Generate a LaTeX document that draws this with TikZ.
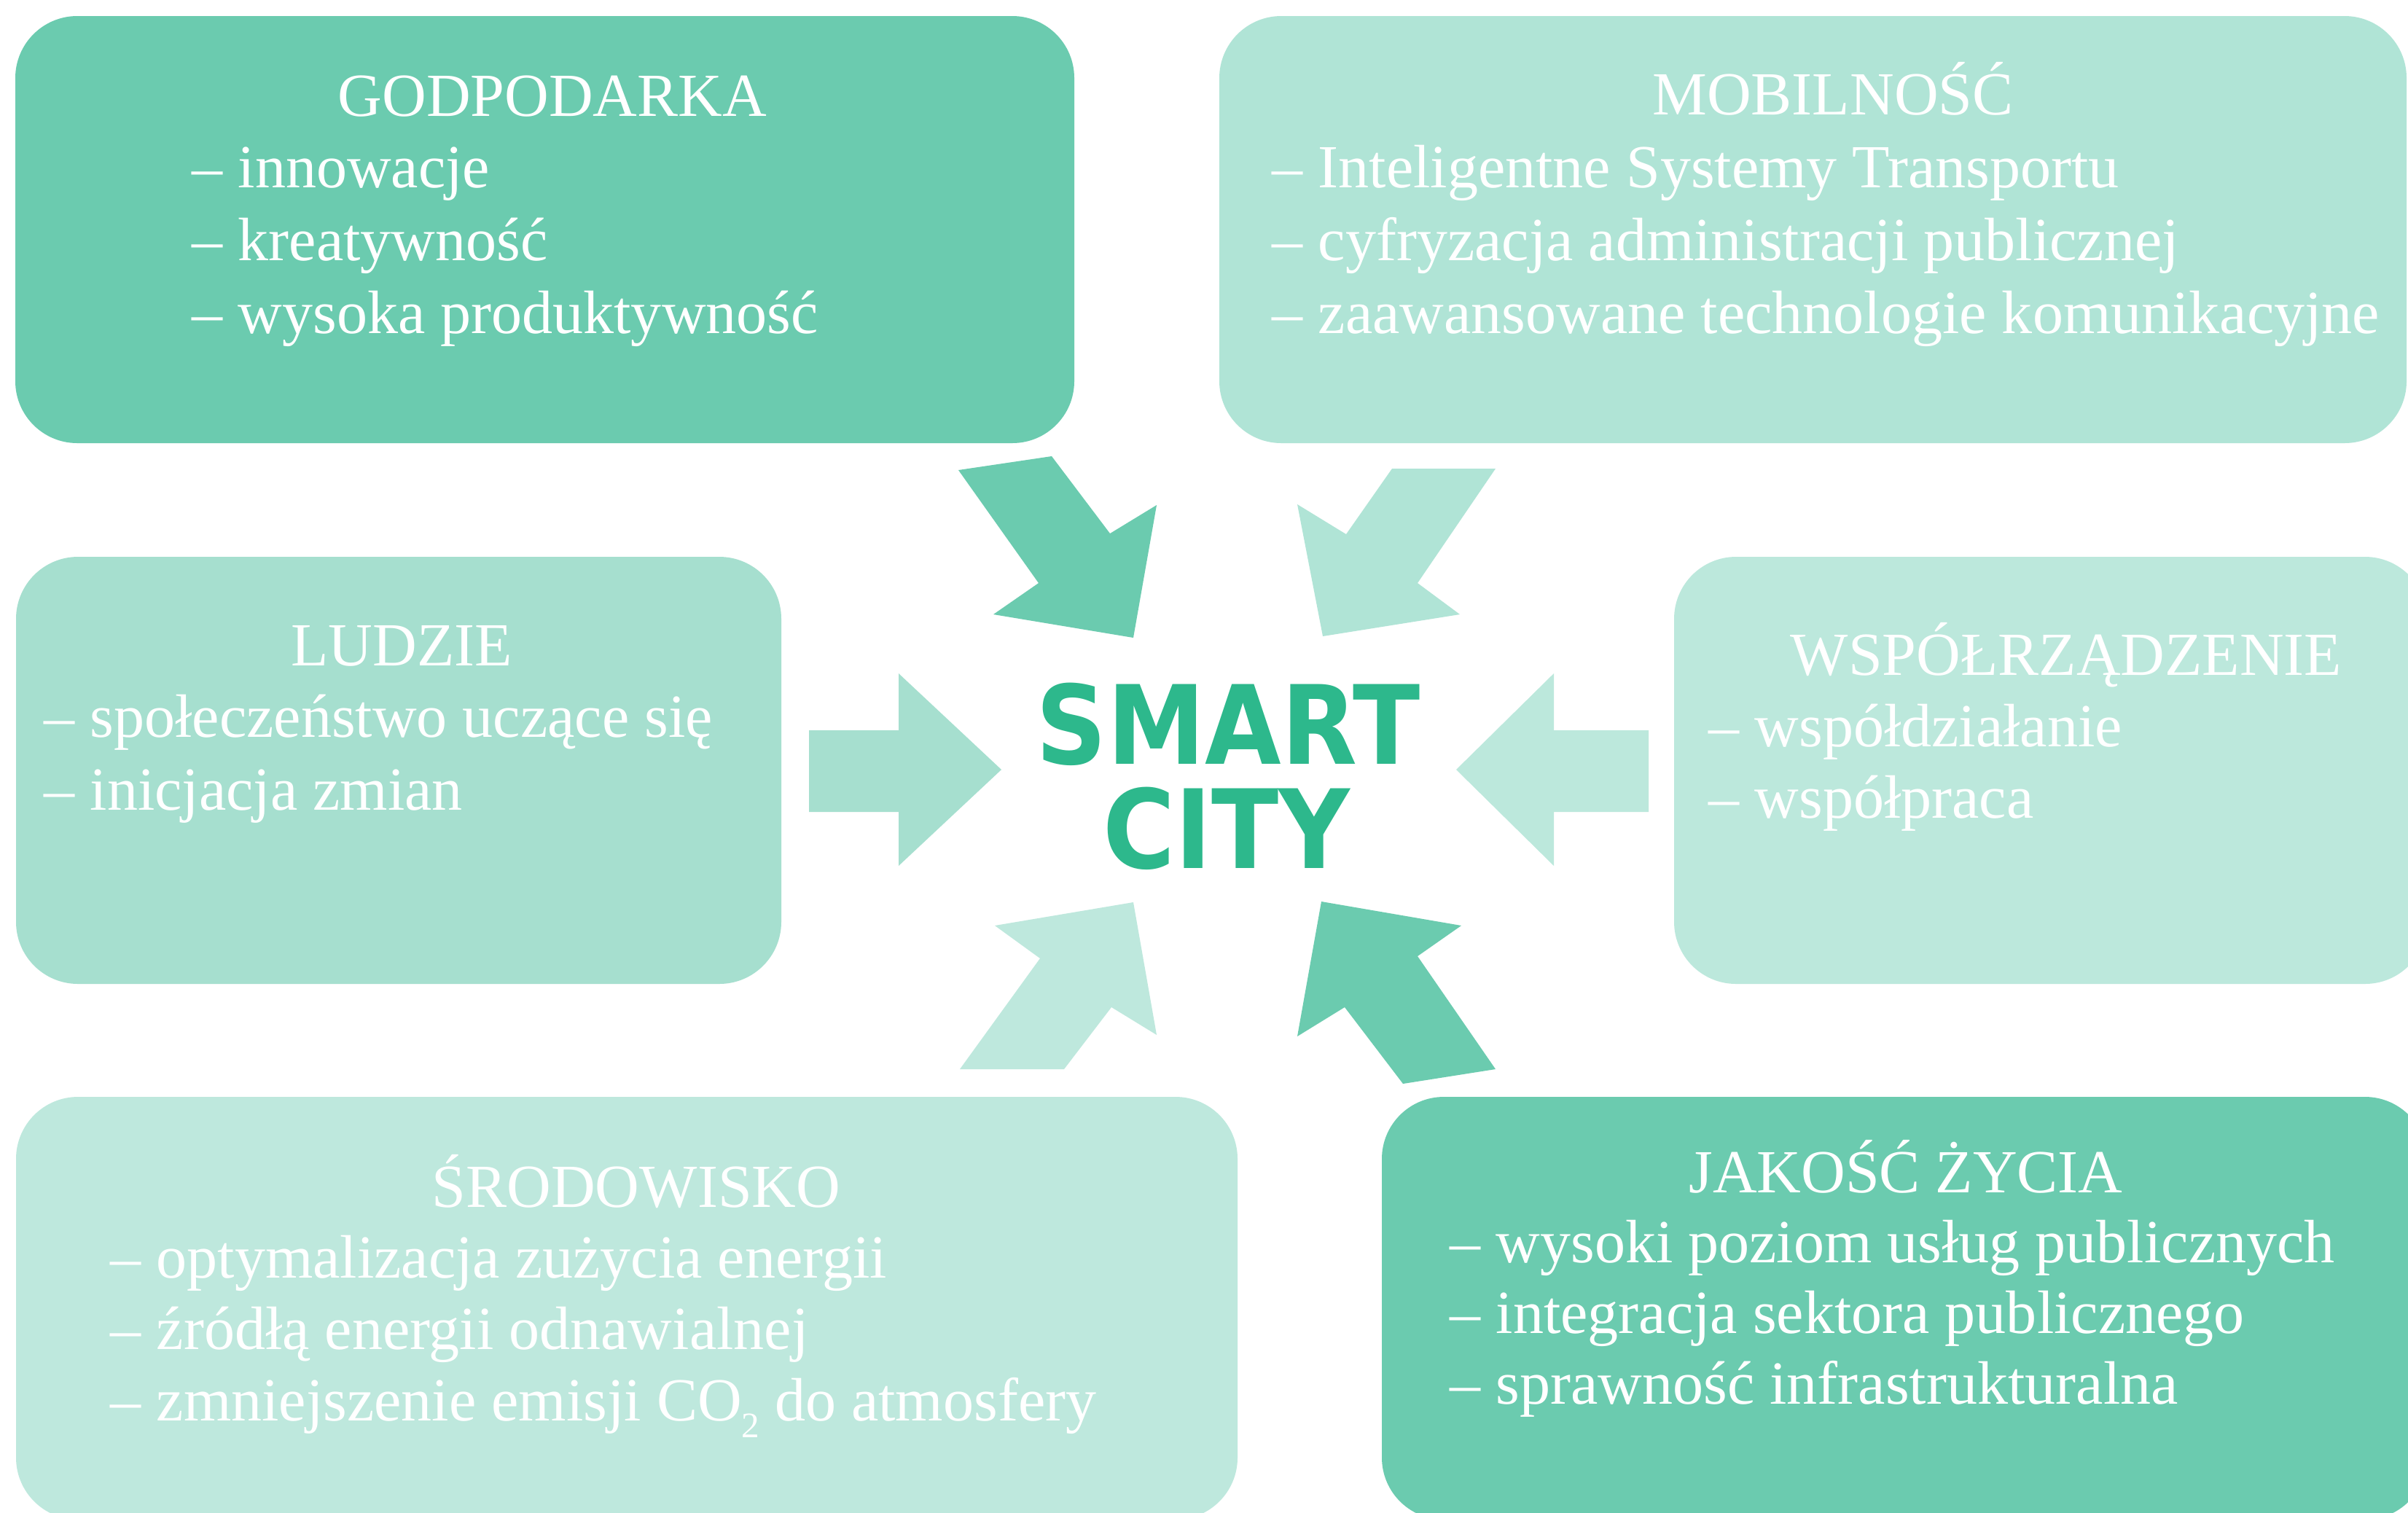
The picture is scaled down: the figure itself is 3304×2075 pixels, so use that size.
\documentclass[tikz,border=0pt]{standalone}
\usepackage{fontspec}
\setmainfont{Liberation Serif}
\newfontfamily\smartfont[FakeStretch=0.9]{DejaVu Sans Bold}
\definecolor{cDark}{HTML}{6BCBAF}
\definecolor{cMob}{HTML}{B0E4D6}
\definecolor{cLud}{HTML}{A6DFCF}
\definecolor{cWsp}{HTML}{BCE8DC}
\definecolor{cSro}{HTML}{BEE8DD}
\definecolor{cSmart}{HTML}{2DB88C}
\begin{document}
\begin{tikzpicture}[x=0.01cm,y=-0.01cm,
  box/.style={rounded corners=0.85cm},
  ttl/.style={anchor=base, inner sep=0pt, text=white, font=\fontsize{23.9}{28}\selectfont},
  itm/.style={anchor=base west, inner sep=0pt, text=white, font=\fontsize{23.9}{28}\selectfont},
  smart/.style={anchor=base, inner sep=0pt, text=cSmart, font=\smartfont\fontsize{42.7}{43}\selectfont}]
\clip (0,0) rectangle (3304,2075);
\fill[white] (0,0) rectangle (3304,2075);

% boxes
\fill[box, cDark] (21,22) rectangle (1474,608);
\fill[box, cMob] (1673,22) rectangle (3302,608);
\fill[box, cLud] (22,764) rectangle (1072,1350);
\fill[box, cWsp] (2297,764) rectangle (3330,1350);
\fill[box, cSro] (22,1505) rectangle (1698,2085);
\fill[box, cDark] (1896,1505) rectangle (3330,2085);

% arrows
\fill[cDark] (1315,645) -- (1443,626) -- (1523,732) -- (1587,693) -- (1555,875) -- (1363,843) -- (1425,800) -- cycle;
\fill[cMob] (2052,643) -- (1910,643) -- (1847,733) -- (1780,692) -- (1815,873) -- (2003,843) -- (1945,800) -- cycle;
\fill[cSro] (1317,1467) -- (1460,1467) -- (1525,1382) -- (1587,1420) -- (1555,1238) -- (1365,1270) -- (1427,1315) -- cycle;
\fill[cDark] (2052,1467) -- (1925,1487) -- (1845,1382) -- (1780,1422) -- (1813,1237) -- (2005,1270) -- (1945,1312) -- cycle;
\fill[cLud] (1110,1002) -- (1233,1002) -- (1233,924) -- (1374,1056) -- (1233,1188) -- (1233,1114) -- (1110,1114) -- cycle;
\fill[cWsp] (2262,1002) -- (2132,1002) -- (2132,924) -- (1998,1056) -- (2132,1188) -- (2132,1114) -- (2262,1114) -- cycle;

% centre
\node[smart] (smart) at (1685,1048) {SMART};
\node[smart] (city) at (1683,1191) {CITY};

% GODPODARKA
\node[ttl] (g0) at (758,159) {GODPODARKA};
\node[itm] (g1) at (263,257) {– innowacje};
\node[itm] (g2) at (263,357) {– kreatywność};
\node[itm] (g3) at (263,457) {– wysoka produktywność};

% MOBILNOSC
\node[ttl] (m0) at (2515,157) {MOBILNOŚĆ};
\node[itm] (m1) at (1745,257) {– Inteligentne Systemy Transportu};
\node[itm] (m2) at (1745,357) {– cyfryzacja administracji publicznej};
\node[itm] (m3) at (1745,457) {– zaawansowane technologie komunikacyjne};

% LUDZIE
\node[ttl] (l0) at (551,913) {LUDZIE};
\node[itm] (l1) at (60,1011) {– społeczeństwo uczące się};
\node[itm] (l2) at (60,1111) {– inicjacja zmian};

% WSPOLRZADZENIE
\node[ttl] (w0) at (2835,926) {WSPÓŁRZĄDZENIE};
\node[itm] (w1) at (2344,1024) {– współdziałanie};
\node[itm] (w2) at (2344,1122) {– współpraca};

% SRODOWISKO
\node[ttl] (s0) at (873,1656) {ŚRODOWISKO};
\node[itm] (s1) at (151,1753) {– optymalizacja zużycia energii};
\node[itm] (s2) at (151,1851) {– źródłą energii odnawialnej};
\node[itm] (s3) at (151,1949) {– zmniejszenie emisji CO\raisebox{-0.28em}{\fontsize{14}{14}\selectfont 2} do atmosfery};

% JAKOSC ZYCIA
\node[ttl] (j0) at (2615,1636) {JAKOŚĆ ŻYCIA};
\node[itm] (j1) at (1989,1732) {– wysoki poziom usług publicznych};
\node[itm] (j2) at (1989,1829) {– integracja sektora publicznego};
\node[itm] (j3) at (1989,1926) {– sprawność infrastrukturalna};
\end{tikzpicture}
\end{document}
